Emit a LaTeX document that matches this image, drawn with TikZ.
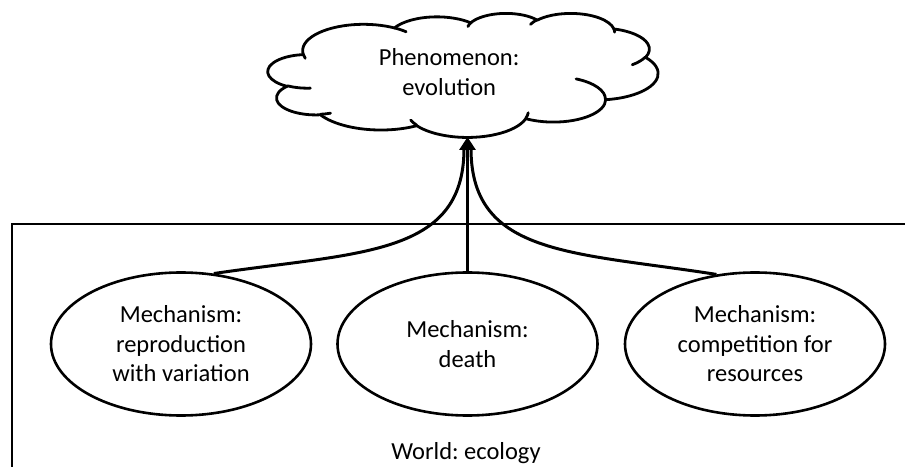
\documentclass[tikz,border=0pt]{standalone}
\usepackage{fontspec}
\setmainfont{Carlito}
\frenchspacing
\usetikzlibrary{shapes.geometric,arrows.meta}

% one lobe of the cloud outline: elliptical arc given by radii and
% visual start/sweep angles (converted to parametric angles)
\newcommand\lobe[4]{arc[start angle={vis(#3,#1,#2)}, end angle={vis(#3+#4,#1,#2)}, x radius=#1, y radius=#2]}

\tikzset{
  lbl/.style={font=\fontsize{24.5}{29.5}\selectfont, align=center, inner sep=0pt},
  mech/.style={ellipse, draw, line width=2.6pt, fill=white, minimum width=260pt,
               minimum height=143pt, inner sep=0pt, lbl},
  cloudline/.style={line width=2.8pt, line join=round, line cap=round},
  frame/.style={line width=2.8pt},
  conn/.style={line width=3pt},
}

\begin{document}
\begin{tikzpicture}[x=1pt, y=1pt,
  declare function={vis(\va,\vx,\vy)=(\va)+(atan2((\vx)*sin(\va),(\vy)*cos(\va))-(\va))-360*round((atan2((\vx)*sin(\va),(\vy)*cos(\va))-(\va))/360);}]
  \fill[white] (0,0) rectangle (905,466);
  \useasboundingbox (0,0) rectangle (905,466);

  % world boundary
  \draw[frame] (906,242) -| (12,-1);

  % phenomenon cloud
  \begin{scope}[shift={(268,453)}, xscale=390/432, yscale=-124/432]
    \draw[cloudline, fill=white] (39.00,143.70)
      \lobe{67.53}{91.90}{-190.48748}{123.78053}
      \lobe{53.33}{72.67}{-144.10238}{89.94523}
      \lobe{43.65}{59.45}{-145.80792}{99.72302}
      \lobe{48.57}{65.95}{-130.98607}{117.24173}
      \lobe{53.33}{72.73}{-78.70888}{109.02692}
      \lobe{67.75}{92.20}{-46.26725}{130.26900}
      \lobe{57.85}{78.67}{0.62502}{114.03333}
      \lobe{67.52}{92.15}{22.45160}{115.17255}
      \lobe{77.20}{105.43}{66.24263}{75.71102}
      \lobe{43.60}{59.18}{-274.94208}{146.73557}
      \lobe{43.45}{59.45}{-246.82850}{152.51885}
      -- cycle;
    \draw[cloudline]
      (46.93,261.77) \lobe{43.45}{59.45}{86.74200}{26.42950}
      (69.28,348.99) \lobe{43.60}{59.18}{73.61047}{11.44747}
      (164.78,390.90) \lobe{67.52}{92.15}{137.62415}{14.08110}
      (288.27,347.51) \lobe{67.52}{92.15}{6.45327}{15.99835}
      (341.29,229.54) \lobe{57.85}{78.67}{-70.29235}{70.91737}
      (417.98,153.54) \lobe{53.33}{72.73}{30.31803}{27.75150}
      (383.24,54.26) \lobe{48.57}{65.95}{-13.74433}{14.85890}
      (290.78,39.52) \lobe{48.57}{65.95}{-149.18145}{18.19537}
      (221.41,47.20) \lobe{43.65}{59.45}{-163.49427}{17.68635}
      (140.00,51.92) \lobe{67.53}{91.90}{-66.70695}{12.31935}
      (41.27,157.89) \lobe{67.53}{91.90}{157.65435}{11.85817};
    \node[lbl] (cloud) at (200.7,206.1) {Phenomenon:\\evolution};
  \end{scope}
  \coordinate (cloudbot) at (467,329);

  % mechanisms
  \node[mech] (m1) at (181,122) {Mechanism:\\reproduction\\with variation};
  \node[mech] (m2) at (467.5,122) {Mechanism:\\death};
  \node[mech] (m3) at (755,122) {Mechanism:\\competition for\\resources};

  \node[lbl, anchor=base] (world) at (466,7) {World: ecology};

  % connectors into the phenomenon
  \coordinate (jl) at (464,316);
  \coordinate (jr) at (471,316);
  \draw[conn] (m1.65) .. controls (360,214) and (463,210) .. (jl);
  \draw[conn] (m3.119) .. controls (574,214) and (472,210) .. (jr);
  \draw[conn, -{Triangle[width=16pt,length=13pt]}] (m2.north) -- (m2.north |- cloudbot);
\end{tikzpicture}
\end{document}
